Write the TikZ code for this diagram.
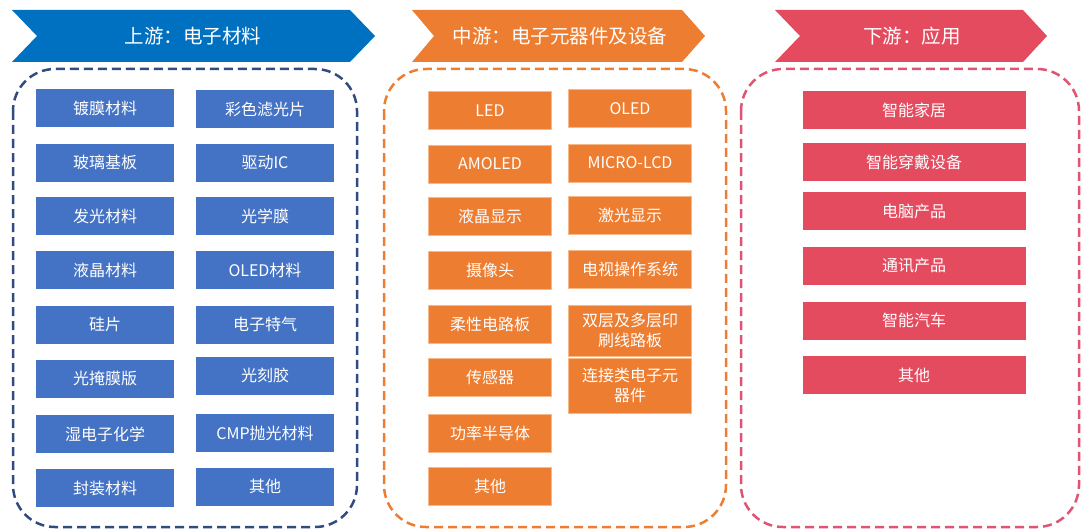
\documentclass[tikz,border=0pt]{standalone}
\usepackage{fontspec}
\setmainfont{Noto Sans CJK SC}
\definecolor{bannerblue}{HTML}{0070C0}
\definecolor{boxblue}{HTML}{4472C4}
\definecolor{dashblue}{HTML}{2F4B80}
\definecolor{myorange}{HTML}{ED7D31}
\definecolor{orangeedge}{HTML}{F8B98A}
\definecolor{myred}{HTML}{E54B5F}
\definecolor{dashred}{HTML}{E05372}
\tikzset{
  basebox/.style={minimum height=38pt, inner sep=0pt, text=white, font=\fontsize{16}{19}\selectfont, align=center},
  bluebox/.style={basebox, fill=boxblue, minimum width=138pt},
  orangebox/.style={basebox, fill=myorange, draw=orangeedge, line width=1pt, minimum width=123pt},
  redbox/.style={basebox, fill=myred, minimum width=223pt},
  bannertext/.style={text=white, font=\fontsize{19.5}{22}\selectfont, inner sep=0pt},
  container/.style={dashed, dash pattern=on 9pt off 5pt, line width=2.5pt, rounded corners=42pt}
}
\begin{document}
\begin{tikzpicture}[x=1pt,y=-1pt]
\useasboundingbox (0,0) rectangle (1081,532);
% banners
\fill[bannerblue] (12,10) -- (350,10) -- (375,36) -- (350,62) -- (12,62) -- (37,36) -- cycle;
\node[bannertext] (t1) at (193,36) {上游：电子材料};
\fill[myorange] (412,10) -- (682,10) -- (705,36) -- (682,62) -- (412,62) -- (434,36) -- cycle;
\node[bannertext] (t2) at (560,36) {中游：电子元器件及设备};
\fill[myred] (775,10) -- (1023,10) -- (1047,36) -- (1023,62) -- (775,62) -- (800,36) -- cycle;
\node[bannertext] (t3) at (912,36) {下游：应用};
% containers
\draw[container, draw=dashblue] (13,69) rectangle (357,527);
\draw[container, draw=myorange] (384,69) rectangle (726,527);
\draw[container, draw=dashred] (741,69) rectangle (1079,527);
% blue boxes
\node[bluebox] (b1) at (105,108) {镀膜材料};
\node[bluebox] (b2) at (105,162.5) {玻璃基板};
\node[bluebox] (b3) at (105,216) {发光材料};
\node[bluebox] (b4) at (105,270) {液晶材料};
\node[bluebox] (b5) at (105,324.5) {硅片};
\node[bluebox] (b6) at (105,378.5) {光掩膜版};
\node[bluebox] (b7) at (105,434) {湿电子化学};
\node[bluebox] (b8) at (105,488) {封装材料};
\node[bluebox] (c1) at (265,109) {彩色滤光片};
\node[bluebox] (c2) at (265,162.5) {驱动IC};
\node[bluebox] (c3) at (265,216) {光学膜};
\node[bluebox] (c4) at (265,270) {OLED材料};
\node[bluebox] (c5) at (265,324.5) {电子特气};
\node[bluebox] (c6) at (265,375.5) {光刻胶};
\node[bluebox] (c7) at (265,433) {CMP抛光材料};
\node[bluebox] (c8) at (265,486.5) {其他};
% orange boxes
\node[orangebox] (o1) at (490,110.5) {LED};
\node[orangebox] (o2) at (490,164) {AMOLED};
\node[orangebox] (o3) at (490,216) {液晶显示};
\node[orangebox] (o4) at (490,270.5) {摄像头};
\node[orangebox] (o5) at (490,324) {柔性电路板};
\node[orangebox] (o6) at (490,377) {传感器};
\node[orangebox] (o7) at (490,433) {功率半导体};
\node[orangebox] (o8) at (490,486) {其他};
\node[orangebox] (p1) at (630,108.5) {OLED};
\node[orangebox] (p2) at (630,163) {MICRO-LCD};
\node[orangebox] (p3) at (630,215) {激光显示};
\node[orangebox] (p4) at (630,269) {电视操作系统};
\node[orangebox, minimum height=51pt] (p5) at (630,330.5) {双层及多层印\\[1.5pt]刷线路板};
\node[orangebox, minimum height=55pt] (p6) at (630,385.5) {连接类电子元\\[1.5pt]器件};
% red boxes
\node[redbox] (r1) at (914,110.5) {智能家居};
\node[redbox] (r2) at (914,162) {智能穿戴设备};
\node[redbox] (r3) at (914,211) {电脑产品};
\node[redbox] (r4) at (914,266) {通讯产品};
\node[redbox] (r5) at (914,320.5) {智能汽车};
\node[redbox] (r6) at (914,375) {其他};
\end{tikzpicture}
\end{document}
